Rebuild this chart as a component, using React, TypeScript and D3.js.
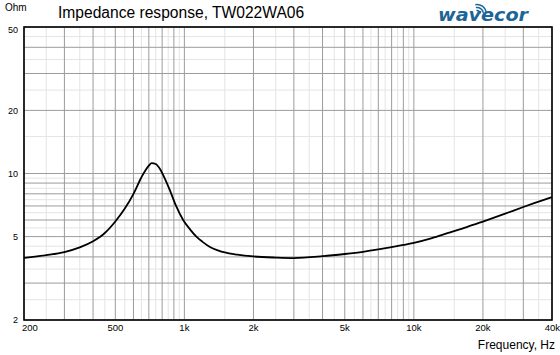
import React from "react";
import * as d3 from "d3";

// ---- data ----
const freqs = [200, 250, 300, 350, 400, 450, 500, 550, 600, 650, 700, 720, 750, 783, 820, 865, 920, 989, 1060, 1131, 1200, 1293, 1400, 1500, 1700, 2000, 2500, 3000, 4000, 5000, 6000, 7000, 8000, 9000, 10000, 12000, 14000, 17000, 20000, 25000, 30000, 35000, 40000];
const impedance = [3.96, 4.08, 4.22, 4.44, 4.75, 5.2, 5.9, 6.8, 8.0, 9.6, 10.9, 11.2, 11.1, 10.5, 9.5, 8.3, 7.0, 5.98, 5.4, 4.98, 4.72, 4.46, 4.3, 4.2, 4.1, 4.02, 3.97, 3.95, 4.03, 4.13, 4.23, 4.34, 4.45, 4.56, 4.67, 4.92, 5.19, 5.55, 5.9, 6.43, 6.92, 7.34, 7.72];
const xTicks = [200, 500, 1000, 2000, 5000, 10000, 20000, 40000];
const xTickLabels = ["200", "500", "1k", "2k", "5k", "10k", "20k", "40k"];
const yTicks = [2, 5, 10, 20, 50];
const yTickLabels = ["2", "5", "10", "20", "50"];
const title = "Impedance response, TW022WA06";
const yUnit = "Ohm";
const xTitle = "Frequency, Hz";
const logoText = "wavecor";

const W = 560, H = 355;
const M = { left: 24, right: 552, top: 27, bottom: 320 };
const FONT = "'Liberation Sans', Arial, sans-serif";

function midpoints(arr: number[]) {
  const out: number[] = [];
  for (let i = 0; i < arr.length - 1; i++) out.push((arr[i] + arr[i + 1]) / 2);
  return out;
}

export default function App() {
  const x = d3.scaleLog().domain([200, 40000]).range([M.left, M.right]);
  const y = d3.scaleLog().domain([2, 50]).range([M.bottom, M.top]);

  const xMajor = x.ticks().filter((t) => t >= 200 && t <= 40000);
  const yMajor = y.ticks().filter((t) => t >= 2 && t <= 50);
  const xMinor = midpoints(xMajor);
  const yMinor = midpoints(yMajor);

  const pts = freqs.map((f, i) => [f, impedance[i]] as [number, number]);
  const line = d3
    .line<[number, number]>()
    .x((d) => x(d[0]))
    .y((d) => y(d[1]))
    .curve(d3.curveMonotoneX);

  const lx = 477, ly = 14;
  const arc = (r: number) => {
    const a0 = (-100 * Math.PI) / 180, a1 = (-10 * Math.PI) / 180;
    return `M${lx + r * Math.cos(a0)},${ly + r * Math.sin(a0)} A${r},${r} 0 0 1 ${lx + r * Math.cos(a1)},${ly + r * Math.sin(a1)}`;
  };

  return (
    <svg width={W} height={H} style={{ position: "absolute", left: 0, top: 0, background: "#fff" }} fontFamily={FONT}>
      <rect x={0} y={0} width={W} height={H} fill="#fff" />
      {/* minor grid */}
      {xMinor.map((t) => (
        <line key={"xm" + t} x1={x(t)} x2={x(t)} y1={M.top} y2={M.bottom} stroke="#e4e4e4" strokeWidth={1} />
      ))}
      {yMinor.map((t) => (
        <line key={"ym" + t} x1={M.left} x2={M.right} y1={y(t)} y2={y(t)} stroke="#e4e4e4" strokeWidth={1} />
      ))}
      {/* major grid */}
      {xMajor.map((t) => (
        <line key={"xM" + t} x1={x(t)} x2={x(t)} y1={M.top} y2={M.bottom} stroke="#9c9c9c" strokeWidth={1} />
      ))}
      {yMajor.map((t) => (
        <line key={"yM" + t} x1={M.left} x2={M.right} y1={y(t)} y2={y(t)} stroke="#9c9c9c" strokeWidth={1} />
      ))}
      {/* frame */}
      <rect x={M.left} y={M.top} width={M.right - M.left} height={M.bottom - M.top} fill="none" stroke="#000" strokeWidth={1.6} />
      {/* curve */}
      <path d={line(pts) || ""} fill="none" stroke="#000" strokeWidth={1.8} />
      {/* y tick labels */}
      {yTicks.map((t, i) => (
        <text key={"yl" + t} x={18} y={Math.max(y(t), 30)} dy="0.35em" textAnchor="end" fontSize={9} fill="#000">
          {yTickLabels[i]}
        </text>
      ))}
      {/* x tick labels */}
      {xTicks.map((t, i) => (
        <text
          key={"xl" + t}
          x={i === 0 ? M.left - 2 : i === xTicks.length - 1 ? W : x(t)}
          y={331}
          textAnchor={i === 0 ? "start" : i === xTicks.length - 1 ? "end" : "middle"}
          fontSize={9.5}
          fill="#000"
        >
          {xTickLabels[i]}
        </text>
      ))}
      <text x={555} y={349} textAnchor="end" fontSize={12} fill="#000">{xTitle}</text>
      <text x={5} y={11} fontSize={10} fill="#000">{yUnit}</text>
      <text x={58} y={17.5} fontSize={15.6} fill="#000">{title}</text>
      {/* logo */}
      <text x={438} y={21} fontSize={17} fontWeight="bold" fontStyle="italic" fontFamily="'DejaVu Sans', Verdana, sans-serif" fill="#1c6596" textLength={90} lengthAdjust="spacingAndGlyphs">
        {logoText}
      </text>
      {[3.5, 6.5, 9.5].map((r) => (
        <path key={"arc" + r} d={arc(r)} fill="none" stroke="#1c6596" strokeWidth={1.5} />
      ))}
    </svg>
  );
}
